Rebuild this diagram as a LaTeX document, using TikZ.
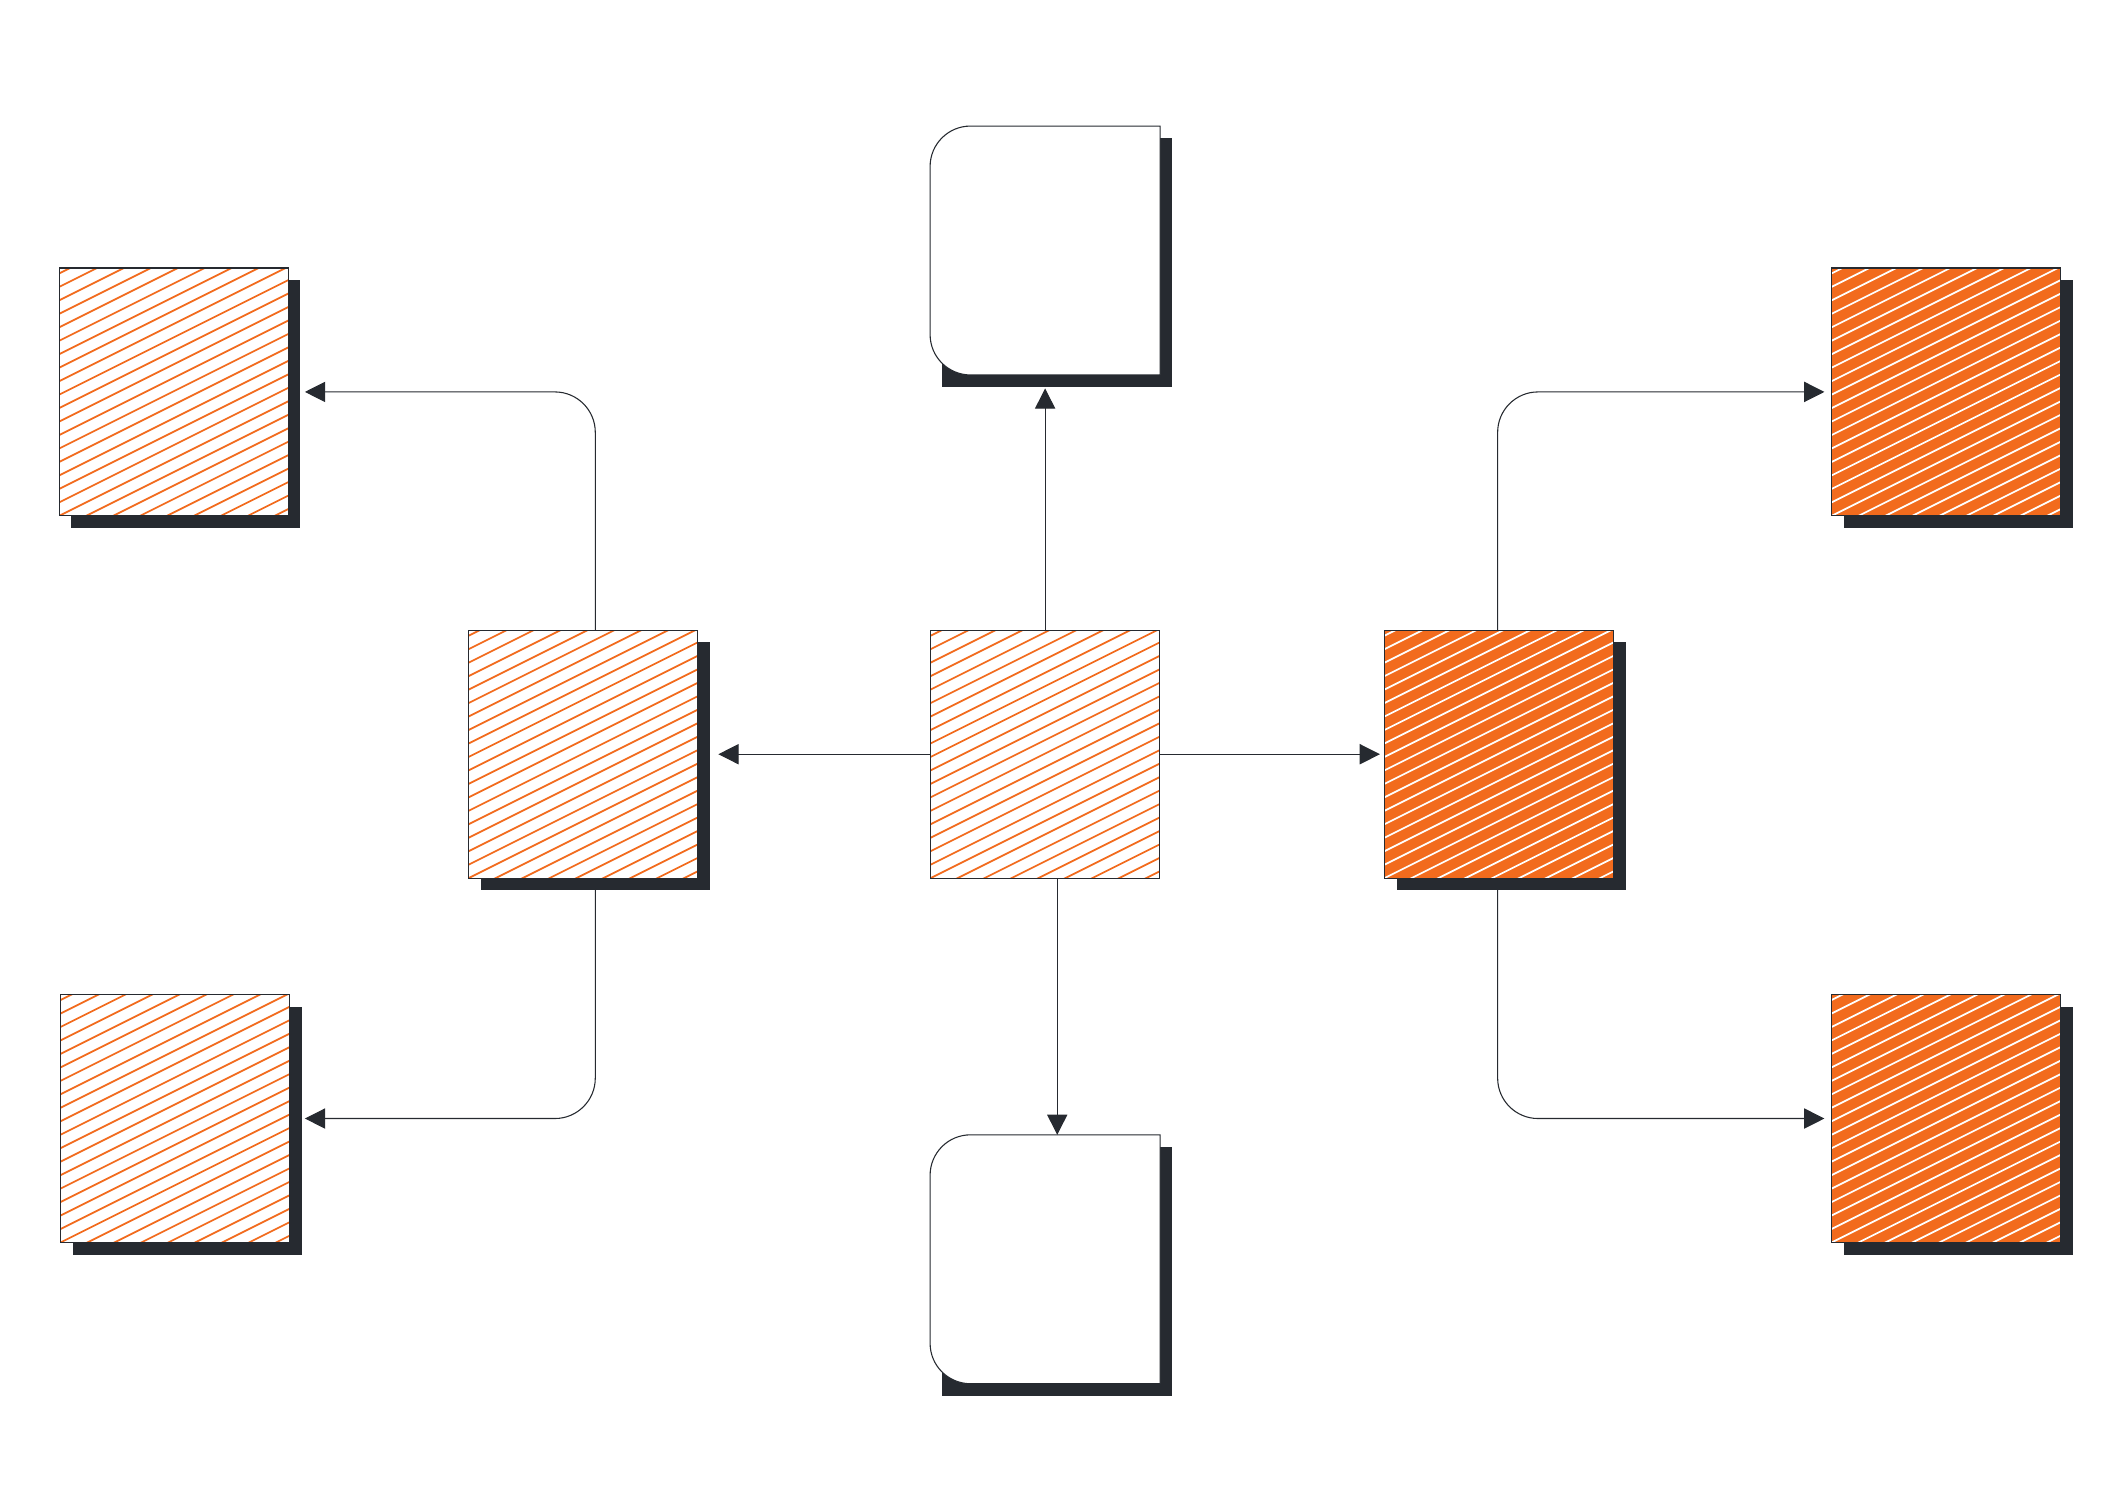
\documentclass[tikz,border=0pt]{standalone}
\usetikzlibrary{arrows.meta,shadows,calc}
\definecolor{org}{HTML}{F26B1D}
\definecolor{drk}{HTML}{262A30}
\begin{document}
\begin{tikzpicture}[x=1pt,y=-1pt,
  hatch/.style={path picture={\foreach \i in {-12,...,22}{\draw[#1,line width=1.3pt] ($(path picture bounding box.south west)+(0,-\i*10)$) -- ++(200,-100);}}},
  box/.style={rectangle,minimum width=170pt,minimum height=184pt,inner sep=0pt,draw=drk,line width=0.8pt},
  shad/.style={drop shadow={shadow xshift=9pt,shadow yshift=-9pt,opacity=1,fill=drk}},
  lightbox/.style={box,fill=white,hatch=org},
  darkbox/.style={box,fill=org,hatch=white},
  conn/.style={draw=drk,line width=0.8pt,-{Triangle[length=15pt,width=15pt]},rounded corners=30pt}]
\useasboundingbox (0,0) rectangle (1560,1114);
\node[lightbox,shad] (tl) at (129,291) {};
\node[lightbox,shad] (bl) at (130,830.5) {};
\node[lightbox,shad] (l) at (433,560) {};
\node[lightbox] (c) at (776,560) {};
\node[darkbox,shad] (r) at (1113,560) {};
\node[darkbox,shad] (tr) at (1445,291) {};
\node[darkbox,shad] (br) at (1445,830.5) {};
\node[box,draw=none] (t) at (776,186) {};
\node[box,draw=none] (b) at (776,935) {};
\foreach \n in {t,b}{
  \fill[drk] ($(\n.north west)+(9,9)$) rectangle ($(\n.south east)+(9,9)$);
  \draw[drk,fill=white,line width=0.8pt] (\n.north east) -- (\n.south east) -- ($(\n.south west)+(30,0)$) arc[start angle=90,end angle=180,radius=30] -- ($(\n.north west)+(0,30)$) arc[start angle=180,end angle=270,radius=30] -- cycle;
}
\coordinate (rt) at ($(t.south)+(0,10)$);
\draw[conn] (c.north) -- (rt);
\draw[conn] ([xshift=9pt]c.south) -- ([xshift=9pt]b.north);
\draw[conn] (c.west) -- ([xshift=15pt]l.east);
\draw[conn] (c.east) -- ([xshift=-3pt]r.west);
\draw[conn] ([xshift=9pt]l.north) |- ([xshift=12pt]tl.east);
\draw[conn] ([xshift=9pt]l.south) |- ([xshift=11pt]bl.east);
\draw[conn] ([xshift=-1pt]r.north) |- ([xshift=-5pt]tr.west);
\draw[conn] ([xshift=-1pt]r.south) |- ([xshift=-5pt]br.west);
\end{tikzpicture}
\end{document}
